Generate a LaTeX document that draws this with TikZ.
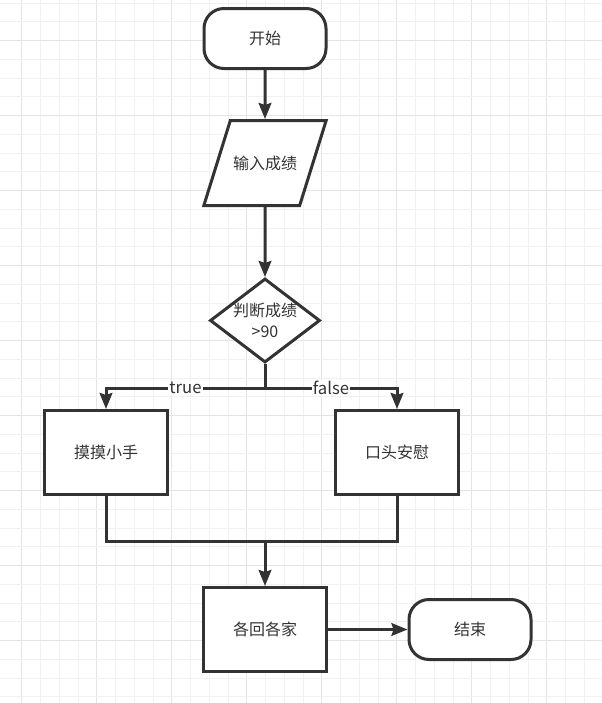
\documentclass[tikz,border=0pt]{standalone}
\usepackage{fontspec}
\setmainfont{Noto Sans CJK SC}
\usetikzlibrary{positioning,arrows.meta,shapes.geometric}
\definecolor{lchei}{HTML}{333333}
\definecolor{lcwangge}{HTML}{F1F1F1}
\definecolor{lcwanggezhu}{HTML}{E4E4E4}
\tikzset{
  lcduan/.style={draw=lchei, fill=white, line width=2.25pt, rounded corners=15pt, align=center,
                 text=lchei, minimum width=91.5pt, minimum height=45pt, inner sep=2pt},
  lcshuru/.style={trapezium, trapezium left angle=72, trapezium right angle=108,
                 trapezium stretches body, draw=lchei, fill=white, line width=2.25pt, align=center,
                 text=lchei, minimum width=91.5pt, minimum height=63.75pt, inner xsep=2pt, inner ysep=25pt},
  lcpanduan/.style={diamond, aspect=1.3, draw=lchei, fill=white, line width=2.25pt, align=center,
                 text=lchei, minimum width=82.5pt, minimum height=63pt, inner sep=-3pt,
                 font=\fontsize{12}{16}\selectfont},
  lckuang/.style={draw=lchei, fill=white, line width=2.25pt, align=center,
                 text=lchei, minimum width=92.25pt, minimum height=63pt, inner sep=2pt},
  lcjian/.style={-{Stealth[length=12pt, width=9.5pt, inset=1.5pt]}, line width=2.25pt, draw=lchei},
  lcxian/.style={line width=2.25pt, draw=lchei},
  lcbiaoqian/.style={fill=white, text=lchei, inner sep=1pt, font=\fontsize{12.5}{14}\selectfont},
  lcwang/.style={draw=lcwangge, line width=0.75pt},
  lcwangzhu/.style={draw=lcwanggezhu, line width=0.75pt},
}

\begin{document}
\begin{tikzpicture}[x=0.75pt, y=-0.75pt, font=\fontsize{12}{14}\selectfont]
        % ---------------- background grid ----------------
        \useasboundingbox[fill=white] (0,0) rectangle (602,703);
        \foreach \k in {1,...,31} {
          \pgfmathtruncatemacro{\m}{mod(\k,4)}
          \ifnum\m=1 \draw[lcwangzhu] (3+18.75*\k,0) -- (3+18.75*\k,703);
          \else \draw[lcwang] (3+18.75*\k,0) -- (3+18.75*\k,703); \fi
        }
        \foreach \k in {0,...,37} {
          \pgfmathtruncatemacro{\m}{mod(\k,4)}
          \ifnum\m=2 \draw[lcwangzhu] (0,3+18.75*\k) -- (602,3+18.75*\k);
          \else \draw[lcwang] (0,3+18.75*\k) -- (602,3+18.75*\k); \fi
        }
        % ---------------- nodes ----------------
        \node[lcduan] (kaishi) at (265,38.5) {开始};
        \node[lcshuru] (shuru) at (265,163) {输入成绩};
        \node[lcpanduan] (panduan) at (265,320.5) {判断成绩\\ >90};
        \node[lckuang] (mo) at (106,452.5) {摸摸小手};
        \node[lckuang] (kou) at (397,452.5) {口头安慰};
        \node[lckuang] (huijia) at (265,629.5) {各回各家};
        \node[lcduan] (jieshu) at (470,629.5) {结束};
        \coordinate (fen) at (265,388);
        \coordinate (he) at (265,541);
        % ---------------- connectors ----------------
        \draw[lcjian] (kaishi) -- (shuru);
        \draw[lcjian] (shuru) -- (panduan);
        \draw[lcxian] (panduan.south) -- (fen);
        \draw[lcjian] (fen) -| node[lcbiaoqian, pos=0.25] {true} (mo.north);
        \draw[lcjian] (fen) -| node[lcbiaoqian, pos=0.25] {false} (kou.north);
        \draw[lcxian] (mo.south) |- (he) -| (kou.south);
        \draw[lcjian] (he) -- (huijia.north);
        \draw[lcjian] (huijia) -- (jieshu);
    \end{tikzpicture}
\end{document}
